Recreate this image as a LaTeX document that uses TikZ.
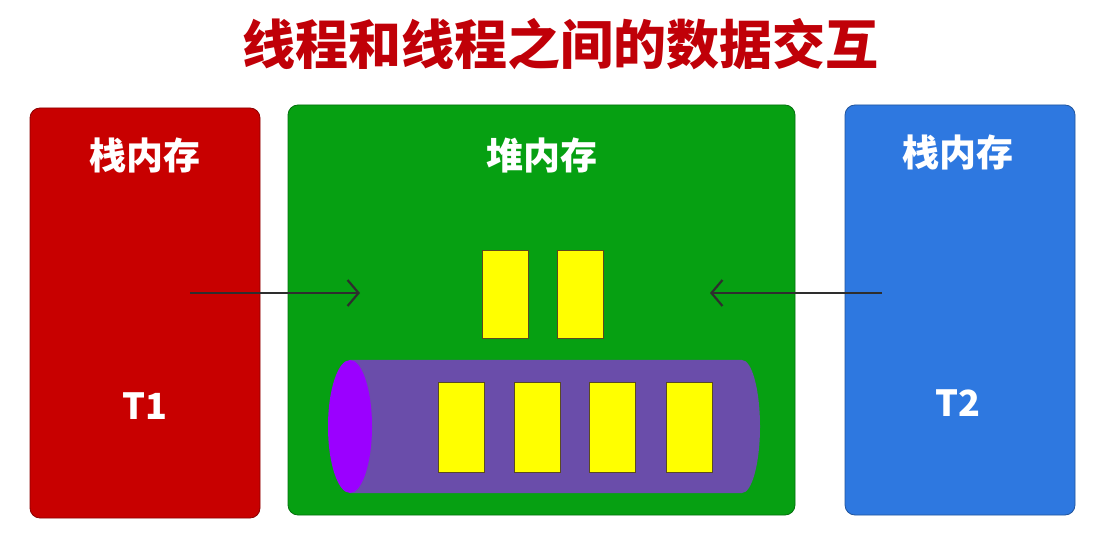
\documentclass[tikz,border=0pt]{standalone}
\usepackage{fontspec}
\newfontfamily\cjk{Noto Sans CJK SC}
\usetikzlibrary{arrows.meta,shapes.geometric}
\definecolor{redbox}{HTML}{C80000}
\definecolor{greenbox}{HTML}{06A012}
\definecolor{bluebox}{HTML}{2E78E0}
\definecolor{titlered}{HTML}{C00008}
\definecolor{cylbody}{HTML}{6A4DAA}
\definecolor{cylend}{HTML}{9B00FF}
\definecolor{yel}{HTML}{FFFF00}
\definecolor{yelborder}{HTML}{5A4A20}
\definecolor{arrowc}{HTML}{2E2E2E}
\tikzset{
  panel/.style={rounded corners=10pt, line width=0.8pt},
  lbl/.style={text=white, font=\cjk\bfseries\fontsize{37}{40}\selectfont, inner sep=0pt},
  tlbl/.style={text=white, font=\cjk\bfseries\fontsize{36}{40}\selectfont, inner sep=0pt},
  item/.style={fill=yel, draw=yelborder, line width=0.8pt, minimum width=46pt, minimum height=88pt, inner sep=0pt},
  conn/.style={draw=arrowc, line width=2.2pt, -{Straight Barb[length=11pt,width=26pt,line width=2.2pt]}}
}
\begin{document}
\begin{tikzpicture}[x=1pt,y=-1pt]
\useasboundingbox (0,0) rectangle (1095,534);
\fill[white] (0,0) rectangle (1095,534);
\node[text=titlered, font=\cjk\bfseries\fontsize{53}{56}\selectfont, inner sep=0pt] (title) at (560,44) {线程和线程之间的数据交互};
% panels
\draw[panel, fill=redbox, draw=redbox!70!black] (30,108) rectangle (260,518);
\draw[panel, fill=greenbox, draw=greenbox!70!black] (288,105) rectangle (795,515);
\draw[panel, fill=bluebox, draw=bluebox!70!black] (845,105) rectangle (1075,515);
\node[lbl] (s1) at (145,155) {栈内存};
\node[lbl] (heap) at (542,155) {堆内存};
\node[lbl] (s2) at (958,152) {栈内存};
\node[tlbl] (t1) at (145,406) {T1};
\node[tlbl] (t2) at (958,403) {T2};
% top items
\node[item] (y1) at (505.5,294) {};
\node[item] (y2) at (580,294) {};
% cylinder
\fill[cylbody] (350,360) -- (742,360) arc[start angle=-90, end angle=90, x radius=18, y radius=66.5] -- (350,493) -- cycle;
\fill[cylend] (350,426.5) ellipse[x radius=22, y radius=66.5];
\node[item, minimum height=90pt] (q1) at (461.5,427) {};
\node[item, minimum height=90pt] (q2) at (537,427) {};
\node[item, minimum height=90pt] (q3) at (612,427) {};
\node[item, minimum height=90pt] (q4) at (689,427) {};
% arrows
\coordinate (a1s) at (190,293);
\coordinate (a1e) at (360,293);
\coordinate (a2s) at (882,293);
\coordinate (a2e) at (710,293);
\draw[conn] (a1s) -- (a1e);
\draw[conn] (a2s) -- (a2e);
\end{tikzpicture}
\end{document}
